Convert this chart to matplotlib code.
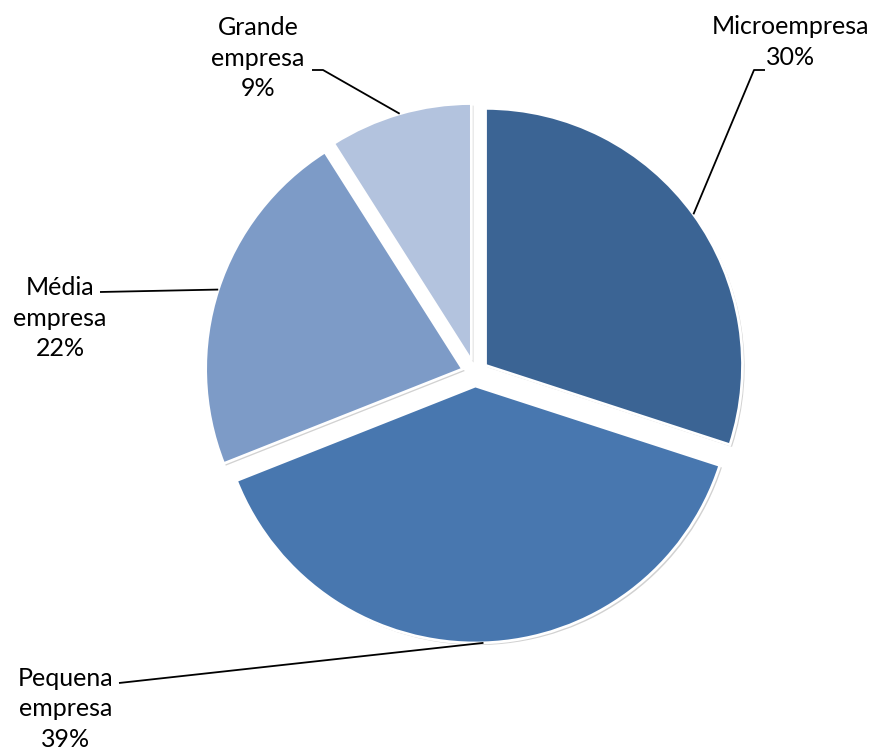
import numpy as np
import matplotlib
matplotlib.use("Agg")
import matplotlib.pyplot as plt
import matplotlib.patheffects as pe

# dados do grafico (porte da empresa)
categorias = ["Microempresa", "Pequena\nempresa", "Média\nempresa", "Grande\nempresa"]
valores = [30, 39, 22, 9]
cores = ["#3B6494", "#4877AF", "#7D9BC7", "#B3C3DE"]

# posicoes dos rotulos (em pixels, y de cima para baixo) e cotovelo da linha
rot_xy = [(791, 42), (66, 709), (60, 318), (258, 58)]
cotovelo = [[(765, 70), (754, 70)], [(119, 683)], [(100, 292)], [(312, 70), (323, 70)]]

W, H = 874, 751
fig = plt.figure(figsize=(W / 100, H / 100), dpi=100)
ax = fig.add_axes([0, 0, 1, 1])

cx, cy, raio = 475, H - 373, 257
wedges, _ = ax.pie(valores, colors=cores, startangle=90, counterclock=False,
                   center=(cx, cy), radius=raio, explode=[13] * len(valores),
                   frame=True,
                   wedgeprops=dict(edgecolor="white", linewidth=2.0,
                                   path_effects=[pe.SimplePatchShadow(offset=(1.5, -1.5), shadow_rgbFace="black", alpha=0.18),
                                                 pe.Normal()]))
ax.set_xlim(0, W)
ax.set_ylim(0, H)
ax.set_aspect("equal")
ax.axis("off")

for w, nome, v, (tx, ty), cot in zip(wedges, categorias, valores, rot_xy, cotovelo):
    ang = np.deg2rad((w.theta1 + w.theta2) / 2)
    x0 = w.center[0] + w.r * np.cos(ang)
    y0 = w.center[1] + w.r * np.sin(ang)
    xs = [p[0] for p in cot] + [x0]
    ys = [H - p[1] for p in cot] + [y0]
    ax.plot(xs, ys, color="black", lw=1.3, solid_capstyle="butt")
    ax.text(tx, H - ty, "%s\n%d%%" % (nome, v), ha="center", va="center",
            fontsize=18, linespacing=1.38, family=['Lato', 'DejaVu Sans'])

fig.savefig("out.png", dpi=100)
